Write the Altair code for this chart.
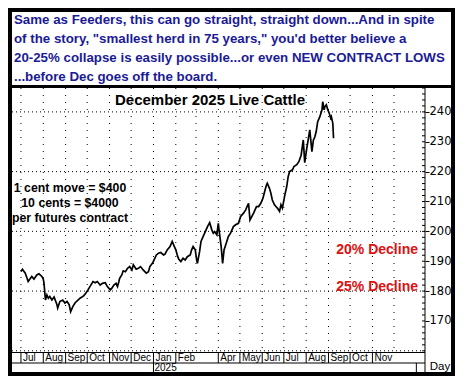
import altair as alt
import pandas as pd

# ---- data ----
start_date = "2024-07-01"
day_offsets = [0, 2, 6, 10, 15, 18, 22, 25, 29, 31, 32, 34, 36, 38, 40, 43, 46, 50, 51, 54,
               58, 61, 64, 67, 69, 72, 75, 77, 82, 87, 90, 93, 97, 100, 103, 106, 110, 113, 117, 120,
               124, 126, 129, 132, 134, 136, 137, 140, 142, 145, 148, 151, 154, 156, 160, 163, 166, 170, 174, 177,
               179, 183, 186, 188, 191, 194, 198, 200, 203, 207, 210, 213, 215, 217, 219, 222, 225, 228, 231, 235,
               237, 239, 242, 244, 245, 248, 250, 253, 256, 259, 262, 265, 267, 269, 272, 274, 275, 278, 280, 282,
               285, 288, 291, 295, 298, 302, 305, 309, 312, 316, 318, 323, 327, 330, 333, 336, 339, 341, 342, 345,
               347, 349, 352, 354, 356, 359, 361, 363, 366, 369, 371, 373, 377, 379, 383, 386, 389, 392, 394, 397,
               399, 401, 404, 406, 408, 410, 412, 415, 418, 419, 421, 422, 424, 426, 428, 430, 431, 433, 434]
prices = [186.5, 187.3, 186.0, 183.2, 184.9, 184.0, 185.4, 185.8, 184.9, 184.0, 182.6, 177.0, 178.7, 177.6, 178.2, 177.0, 178.0, 175.4, 174.3, 176.5,
          177.0, 176.0, 176.5, 175.4, 173.1, 174.8, 176.0, 176.5, 177.6, 178.4, 179.3, 180.4, 182.0, 183.2, 182.8, 183.2, 182.0, 182.6, 182.8, 181.5,
          180.4, 180.9, 182.0, 182.6, 181.5, 183.2, 184.3, 185.4, 186.8, 186.5, 187.6, 188.2, 187.1, 188.8, 187.3, 187.6, 188.2, 187.0, 186.0, 186.5,
          188.2, 189.5, 191.0, 192.1, 192.7, 192.9, 192.1, 192.4, 193.8, 194.9, 196.6, 194.9, 193.8, 192.1, 190.7, 189.9, 191.0, 190.4, 191.5, 192.1,
          193.8, 194.9, 193.8, 190.4, 189.3, 193.2, 196.6, 198.3, 199.9, 201.6, 202.9, 200.5, 199.4, 199.9, 198.8, 202.7, 200.5, 194.9, 189.3, 193.8,
          196.0, 198.3, 199.4, 201.6, 202.2, 202.7, 205.0, 206.1, 207.2, 209.4, 203.8, 206.1, 208.3, 208.3, 209.4, 211.1, 213.9, 215.6, 216.1, 214.4,
          212.8, 210.5, 208.9, 208.3, 207.8, 206.7, 208.9, 207.8, 211.7, 215.0, 218.3, 220.0, 220.6, 221.7, 222.3, 223.4, 225.5, 230.6, 223.0, 228.0,
          231.0, 234.0, 226.7, 230.5, 231.6, 233.5, 236.7, 238.4, 240.7, 243.4, 240.7, 241.8, 242.4, 240.7, 239.6, 237.9, 238.4, 236.2, 231.2]
assert len(day_offsets) == len(prices)

grid_months = ["2024-07", "2024-08", "2024-09", "2024-10", "2024-11", "2024-12", "2025-01", "2025-02",
               "2025-03", "2025-04", "2025-05", "2025-06", "2025-07", "2025-08", "2025-09", "2025-10",
               "2025-11", "2025-12"]
label_months = ["2024-07", "2024-08", "2024-09", "2024-10", "2024-11", "2024-12", "2025-01", "2025-02",
                "2025-04", "2025-05", "2025-06", "2025-07", "2025-08", "2025-09", "2025-10", "2025-11"]
month_names = ["Jul", "Aug", "Sep", "Oct", "Nov", "Dec", "Jan", "Feb",
               "Apr", "May", "Jun", "Jul", "Aug", "Sep", "Oct", "Nov"]
year_starts = ["2025-01", "2026-01"]
year_names = ["2025", ""]
grid_levels = [160, 180, 200, 220, 240]
tick_levels = [170, 180, 190, 200, 210, 220, 230, 240]
minor_levels = list(range(160, 249, 2))
decline_labels = ["20% Decline", "25% Decline"]
decline_levels = [193.8, 181.4]
headline = ["Same as Feeders, this can go straight, straight down...And in spite",
            "of the story, \"smallest herd in 75 years,\" you'd better believe a",
            "20-25% collapse is easily possible...or even NEW CONTRACT LOWS",
            "...before Dec goes off the board."]
chart_title = "December 2025 Live Cattle"
note_lines = ["1 cent move = $400", "10 cents = $4000", "per futures contract"]

# ---- frames ----
base_day = pd.Timestamp(start_date)
df = pd.DataFrame({"date": [(base_day + pd.Timedelta(days=d)).strftime("%Y-%m-%dT00:00:00") for d in day_offsets],
                   "price": prices})
grid_df = pd.DataFrame({"date": [m + "-01T00:00:00" for m in grid_months]})
lab_df = pd.DataFrame({"date": [m + "-01T00:00:00" for m in label_months], "name": month_names})
yr_df = pd.DataFrame({"date": [m + "-01T00:00:00" for m in year_starts], "name": year_names})
hgrid_df = pd.DataFrame({"level": grid_levels})
minor_df = pd.DataFrame({"level": minor_levels})
dec_df = pd.DataFrame({"level": decline_levels, "name": decline_labels})
one = pd.DataFrame({"a": [0]})

W, H = 417, 264
xs = alt.Scale(domain=[alt.DateTime(year=2024, month=6, date=13), alt.DateTime(year=2026, month=1, date=13)])
ys = alt.Scale(domain=[159.6, 248.0], nice=False, zero=False)
yaxis = alt.Axis(orient="right", values=tick_levels, title=None, grid=False, domain=False,
                 tickSize=4, tickColor="black", labelPadding=0, labelFont="DejaVu Sans",
                 labelFontSize=11.5, labelColor="black")
X = lambda: alt.X("date:T", scale=xs, axis=None)
Y = lambda f: alt.Y(f, scale=ys, axis=yaxis)

layers = []
# dotted grids
layers.append(alt.Chart(hgrid_df).mark_rule(color="black", strokeDash=[1, 3], strokeWidth=1).encode(y=Y("level:Q")))
layers.append(alt.Chart(grid_df).mark_rule(color="black", strokeDash=[1, 6], strokeWidth=1).encode(x=X()))
# minor ticks on the right axis
layers.append(alt.Chart(minor_df).mark_rule(color="black", strokeWidth=1).encode(
    y=Y("level:Q"), x=alt.value(W - 3), x2=alt.value(W)))
# price line
layers.append(alt.Chart(df).mark_line(color="black", strokeWidth=1.7).encode(x=X(), y=Y("price:Q")))
# decline labels
layers.append(alt.Chart(dec_df).mark_text(align="right", baseline="middle", font="Liberation Sans",
                                          fontWeight="bold", fontSize=14, color="#e01010").encode(
    y=Y("level:Q"), x=alt.value(410), text="name:N"))
# chart title and notes
layers.append(alt.Chart(one).mark_text(align="center", baseline="middle", font="Liberation Sans",
                                       fontWeight="bold", fontSize=15, color="black").encode(
    x=alt.value(202), y=alt.value(12), text=alt.value(chart_title)))
for i, t in enumerate(note_lines):
    layers.append(alt.Chart(one).mark_text(align="center", baseline="middle", font="Liberation Sans",
                                           fontWeight="bold", fontSize=12.3, color="black").encode(
        x=alt.value(62), y=alt.value(100 + 15 * i), text=alt.value(t)))
# headline text box
for i, t in enumerate(headline):
    layers.append(alt.Chart(one).mark_text(align="left", baseline="middle", font="Liberation Sans",
                                           fontWeight="bold", fontSize=13.3, color="#1b1b96").encode(
        x=alt.value(6), y=alt.value(-68 + 19 * i), text=alt.value(t)))

# frame lines
def hline(y, x0, x1, w):
    return alt.Chart(one).mark_rule(color="black", strokeWidth=w).encode(
        x=alt.value(x0), x2=alt.value(x1), y=alt.value(y))

def vline(x, y0, y1, w):
    return alt.Chart(one).mark_rule(color="black", strokeWidth=w).encode(
        x=alt.value(x), y=alt.value(y0), y2=alt.value(y1))

layers += [
    hline(-78, 0, 447, 4), hline(286, 0, 447, 4), vline(2, -80, 288, 4), vline(445, -80, 288, 4),
    hline(-1.5, 0, 447, 3),
    hline(264.5, 0, W, 1), hline(275, 0, W, 1),
    vline(W, 0, 284, 1),
]
# month row
layers.append(alt.Chart(lab_df).mark_rule(color="black", strokeWidth=1).encode(
    x=X(), y=alt.value(264.5), y2=alt.value(275)))
layers.append(alt.Chart(lab_df).mark_text(align="left", baseline="middle", dx=2, font="Liberation Sans",
                                          fontSize=10, color="black").encode(
    x=X(), y=alt.value(269.7), text="name:N"))
# year row
layers.append(alt.Chart(yr_df).mark_rule(color="black", strokeWidth=1).encode(
    x=X(), y=alt.value(275), y2=alt.value(284)))
layers.append(alt.Chart(yr_df).mark_text(align="left", baseline="middle", dx=1, font="Liberation Sans",
                                         fontSize=10, color="black").encode(
    x=X(), y=alt.value(280.3), text="name:N"))
layers.append(alt.Chart(one).mark_text(align="center", baseline="middle", font="Liberation Sans",
                                       fontSize=11.5, color="black").encode(
    x=alt.value(432), y=alt.value(279), text=alt.value("Day")))

chart = alt.layer(*layers).properties(
    width=W, height=H,
    autosize=alt.AutoSizeParams(type="none"),
    padding={"left": 0, "top": 80, "right": 30, "bottom": 24},
    background="white",
).configure_view(strokeWidth=0)

chart.save("out.html", embed_options={"renderer": "svg", "actions": False})
